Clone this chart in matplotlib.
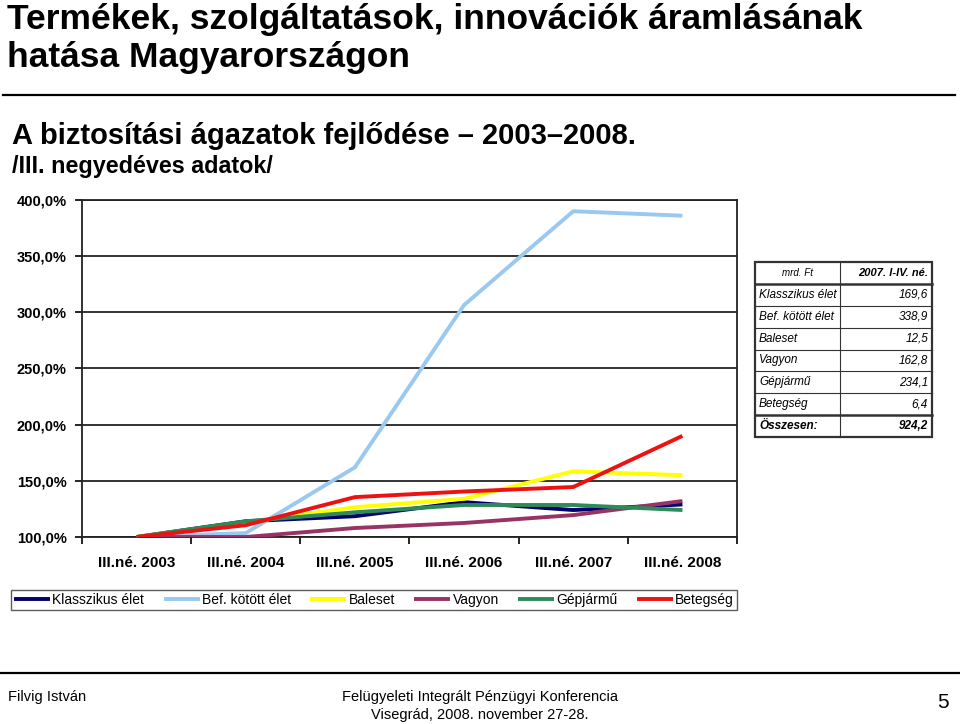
import matplotlib
matplotlib.use("Agg")
import matplotlib.pyplot as plt
from matplotlib.lines import Line2D
from matplotlib.patches import Rectangle
from matplotlib.ticker import FuncFormatter, FixedLocator

plt.rcParams['font.family'] = ['Liberation Sans', 'DejaVu Sans']

categories = ["III.né. 2003", "III.né. 2004", "III.né. 2005", "III.né. 2006", "III.né. 2007", "III.né. 2008"]
series_names = ["Klasszikus élet", "Bef. kötött élet", "Baleset", "Vagyon", "Gépjármű", "Betegség"]
klasszikus = [100, 114, 118.5, 131, 124, 129]
bef_kotott = [100, 103.5, 162, 306.5, 390, 386]
baleset = [100, 113, 126.5, 134, 158.5, 155]
vagyon = [100, 100, 108, 112.5, 119.5, 132]
gepjarmu = [100, 114, 122, 128.5, 128.5, 124]
betegseg = [100, 110.5, 135.5, 140.5, 144.5, 190]
series_values = [klasszikus, bef_kotott, baleset, vagyon, gepjarmu, betegseg]
colors = ["#000070", "#99C8F0", "#FFFF00", "#993366", "#2E8B57", "#EE1111"]

yticks = [100, 150, 200, 250, 300, 350, 400]

table_header = ["mrd. Ft", "2007. I-IV. né."]
table_rows = ["Klasszikus élet", "Bef. kötött élet", "Baleset", "Vagyon", "Gépjármű", "Betegség"]
table_vals = ["169,6", "338,9", "12,5", "162,8", "234,1", "6,4"]
table_total = ["Összesen:", "924,2"]

W, H = 960, 724
fig = plt.figure(figsize=(9.6, 7.24), dpi=100)

def fx(px):
    return px / W

def fy(py):
    return 1 - py / H

# Title
fig.text(fx(7), fy(20), "Termékek, szolgáltatások, innovációk áramlásának", fontsize=25.5,
         fontweight='bold', va='center', ha='left')
fig.text(fx(7), fy(58), "hatása Magyarországon", fontsize=25.5, fontweight='bold', va='center', ha='left')
fig.add_artist(Line2D([fx(3), fx(955)], [fy(95), fy(95)], color='black', lw=1.6))
fig.text(fx(12), fy(136), "A biztosítási ágazatok fejlődése – 2003–2008.", fontsize=21,
         fontweight='bold', va='center', ha='left')
fig.text(fx(12), fy(167), "/III. negyedéves adatok/", fontsize=16.8, fontweight='bold',
         va='center', ha='left')

# Axes
ax = fig.add_axes([fx(82), fy(537), fx(737) - fx(82), fy(200) - fy(537)])
x = list(range(len(categories)))
for name, vals, c in zip(series_names, series_values, colors):
    ax.plot(x, vals, color=c, lw=2.8, label=name, solid_capstyle='butt', zorder=3)

ax.set_xlim(-0.5, len(categories) - 0.5)
ax.set_ylim(100, 400)
ax.yaxis.set_major_locator(FixedLocator(yticks))
ax.yaxis.set_major_formatter(FuncFormatter(lambda v, p: f"{v:.1f}".replace('.', ',') + "%"))
ax.grid(axis='y', color='#333333', lw=1.4, zorder=1)
ax.set_xticks(x)
ax.set_xticklabels(categories, fontsize=11, fontweight='bold')
ax.xaxis.set_minor_locator(FixedLocator([i - 0.5 for i in range(len(categories) + 1)]))
ax.tick_params(axis='x', which='major', length=0, pad=14)
ax.tick_params(axis='x', which='minor', length=5, width=1.2, direction='out')
ax.tick_params(axis='y', length=5, width=1.2, direction='out', labelsize=10.5, pad=6)
for lab in ax.get_yticklabels():
    lab.set_fontweight('bold')
for s in ax.spines.values():
    s.set_color('#222222')
    s.set_linewidth(1.3)

# Inset table
tx0, tx1, tmid = 755, 932, 840
ty0, ty1 = 262, 437
nrows = 8
rowh = (ty1 - ty0) / nrows
fig.add_artist(Rectangle((fx(tx0), fy(ty1)), fx(tx1) - fx(tx0), fy(ty0) - fy(ty1),
                         fill=True, facecolor='white', edgecolor='#333333', lw=1.6, zorder=5))
for i in range(1, nrows):
    lw = 1.8 if i in (1, nrows - 1) else 0.8
    fig.add_artist(Line2D([fx(tx0), fx(tx1)], [fy(ty0 + rowh * i)] * 2, color='#333333', lw=lw, zorder=6))
fig.add_artist(Line2D([fx(tmid)] * 2, [fy(ty0), fy(ty1)], color='#333333', lw=0.8, zorder=6))

def row_y(i):
    return fy(ty0 + rowh * i + rowh / 2)

fig.text(fx((tx0 + tmid) / 2), row_y(0), table_header[0], fontsize=7, style='italic',
         ha='center', va='center', zorder=7)
fig.text(fx(tx1 - 4), row_y(0), table_header[1], fontsize=8, style='italic',
         fontweight='bold', ha='right', va='center', zorder=7)
for i, (r, v) in enumerate(zip(table_rows, table_vals)):
    fig.text(fx(tx0 + 4), row_y(i + 1), r, fontsize=8.5, style='italic', ha='left', va='center', zorder=7)
    fig.text(fx(tx1 - 4), row_y(i + 1), v, fontsize=8.5, style='italic', ha='right', va='center', zorder=7)
fig.text(fx(tx0 + 4), row_y(nrows - 1), table_total[0], fontsize=8.5, style='italic', fontweight='bold',
         ha='left', va='center', zorder=7)
fig.text(fx(tx1 - 4), row_y(nrows - 1), table_total[1], fontsize=8.5, style='italic', fontweight='bold',
         ha='right', va='center', zorder=7)

# Legend
fig.legend(loc='center', bbox_to_anchor=(fx(374), fy(600)), ncol=6, frameon=True, fancybox=False,
           edgecolor='#333333', fontsize=10, handlelength=2.6, handletextpad=0.15,
           columnspacing=1.4, borderpad=0.25, borderaxespad=0)

# Footer
fig.add_artist(Line2D([0, 1], [fy(673), fy(673)], color='black', lw=1.6))
foot = ['Liberation Sans Narrow', 'Liberation Sans', 'DejaVu Sans']
fig.text(fx(8), fy(697), "Filvig István", fontsize=10.5, family=foot, ha='left', va='center')
fig.text(fx(480), fy(697), "Felügyeleti Integrált Pénzügyi Konferencia", fontsize=10.5, family=foot,
         ha='center', va='center')
fig.text(fx(480), fy(715), "Visegrád, 2008. november 27-28.", fontsize=10.5, family=foot,
         ha='center', va='center')
fig.text(fx(943), fy(703), "5", fontsize=15, family=foot, ha='center', va='center')

fig.savefig("out.png", dpi=100)
